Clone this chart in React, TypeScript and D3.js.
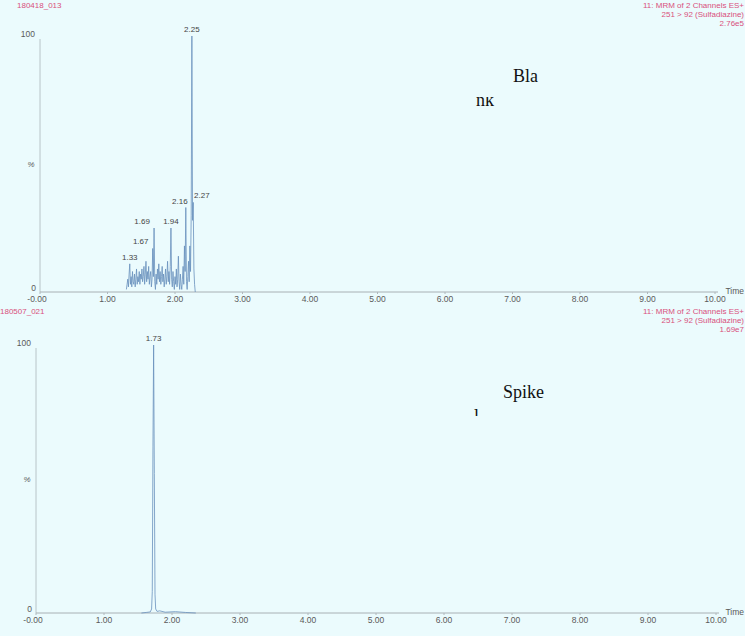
import React from "react";
import * as d3 from "d3";

const xTicks = [0, 1, 2, 3, 4, 5, 6, 7, 8, 9, 10];
const xTickLabels = ["-0.00", "1.00", "2.00", "3.00", "4.00", "5.00", "6.00", "7.00", "8.00", "9.00", "10.00"];

const blankTimes = [
  1.28, 1.29, 1.30, 1.31, 1.32, 1.33, 1.34, 1.35, 1.36, 1.37, 1.38, 1.39, 1.40, 1.41, 1.42, 1.43, 1.44, 1.45, 1.46, 1.47,
  1.48, 1.49, 1.50, 1.51, 1.52, 1.53, 1.54, 1.55, 1.56, 1.57, 1.58, 1.59, 1.60, 1.61, 1.62, 1.63, 1.64, 1.65, 1.66, 1.67,
  1.68, 1.69, 1.70, 1.71, 1.72, 1.73, 1.74, 1.75, 1.76, 1.77, 1.78, 1.79, 1.80, 1.81, 1.82, 1.83, 1.84, 1.85, 1.86, 1.87,
  1.88, 1.89, 1.90, 1.91, 1.92, 1.93, 1.94, 1.95, 1.96, 1.97, 1.98, 1.99, 2.00, 2.01, 2.02, 2.03, 2.04, 2.05, 2.06, 2.07,
  2.08, 2.09, 2.10, 2.11, 2.12, 2.13, 2.14, 2.15, 2.16, 2.17, 2.18, 2.19, 2.20, 2.21, 2.22, 2.23, 2.24, 2.25, 2.26, 2.27,
  2.28, 2.29, 2.30,
];
const blankIntensity = [
  1, 3, 5, 2, 7, 11, 3, 6, 2, 8, 4, 3, 7, 2, 5, 9, 3, 6, 4, 8,
  3, 7, 5, 9, 4, 6, 10, 3, 7, 12, 4, 8, 5, 10, 3, 6, 8, 2, 5, 17,
  6, 25, 4, 1, 7, 3, 9, 5, 11, 4, 8, 3, 6, 10, 4, 7, 2, 5, 9, 3,
  6, 12, 4, 8, 3, 10, 25, 5, 2, 8, 4, 1, 6, 3, 9, 2, 5, 14, 4, 1,
  7, 3, 1, 5, 10, 3, 18, 8, 33, 4, 1, 6, 12, 4, 18, 8, 30, 100, 28, 35,
  9, 3, 0,
];
const blankPeakTimes = [1.33, 1.67, 1.69, 1.94, 2.16, 2.25, 2.27];

const spikeTimes = [1.55, 1.62, 1.68, 1.70, 1.71, 1.72, 1.73, 1.74, 1.75, 1.76, 1.78, 1.82, 1.90, 2.05, 2.20, 2.35];
const spikeIntensity = [0, 0.2, 0.4, 1.5, 8, 62, 100, 52, 7, 1.5, 0.6, 0.8, 0.3, 0.5, 0.2, 0];
const spikePeakTimes = [1.73];

const blankHeader = ["11: MRM of 2 Channels ES+", "251 > 92 (Sulfadiazine)", "2.76e5"];
const spikeHeader = ["11: MRM of 2 Channels ES+", "251 > 92 (Sulfadiazine)", "1.69e7"];

const FONT = "'Liberation Sans', Arial, sans-serif";
const SERIF = "'Liberation Serif', 'Times New Roman', serif";
const PINK = "#d9507c";
const GREY = "#5a5a5a";

type PanelProps = {
  name: string;
  header: string[];
  times: number[];
  values: number[];
  peaks: number[];
  xLeft: number;
  xRight: number;
  yTop: number;
  yBase: number;
  titleY: number;
  titleX: number;
};

function Panel(p: PanelProps) {
  const x = d3.scaleLinear().domain([0, 10]).range([p.xLeft, p.xRight]);
  const y = d3.scaleLinear().domain([0, 100]).range([p.yBase, p.yTop]);
  const line = d3
    .line<number>()
    .x((_, i) => x(p.times[i]))
    .y((v) => y(v));
  const path = line(p.values) || "";
  const maxIdx = d3.maxIndex(p.values);
  const mainT = p.times[maxIdx];
  const mainX = x(mainT);
  const labels = p.peaks.map((t, k) => {
    const idx = p.times.findIndex((tt) => Math.abs(tt - t) < 1e-6);
    const v = p.values[idx];
    let lx = x(t);
    if (t !== mainT && Math.abs(lx - mainX) < 10) {
      lx = lx < mainX ? mainX - 12 : mainX + 10;
    } else if (t !== mainT) {
      const prev = p.peaks[k - 1];
      const next = p.peaks[k + 1];
      const crowded =
        (prev !== undefined && prev !== mainT && t - prev < 0.035) ||
        (next !== undefined && next !== mainT && next - t < 0.035);
      if (crowded) lx -= 12;
    }
    return { t, lx, ly: y(v) - 4 };
  });
  return (
    <g>
      <text x={p.titleX} y={p.titleY} fontSize={8} fill={PINK} fontFamily={FONT}>
        {p.name}
      </text>
      {p.header.map((h, i) => (
        <text key={i} x={744} y={p.titleY + i * 9} fontSize={8} fill={PINK} textAnchor="end" fontFamily={FONT}>
          {h}
        </text>
      ))}
      <text x={p.xLeft - 5} y={y(100) + 1} fontSize={8.5} fill={GREY} textAnchor="end" fontFamily={FONT}>
        100
      </text>
      <text x={p.xLeft - 9} y={(p.yTop + p.yBase) / 2 + 3} fontSize={8} fill={GREY} textAnchor="middle" fontFamily={FONT} fontStyle="italic">
        %
      </text>
      <text x={p.xLeft - 4} y={p.yBase - 1} fontSize={8.5} fill={GREY} textAnchor="end" fontFamily={FONT}>
        0
      </text>
      <line x1={p.xLeft} x2={p.xLeft} y1={p.yTop + 3} y2={p.yBase} stroke="#b8c4c8" strokeWidth={1} />
      <line x1={p.xLeft} x2={x(10) + 3} y1={p.yBase} y2={p.yBase} stroke="#a8b0b4" strokeWidth={1} />
      {xTicks.map((t, i) => (
        <g key={t}>
          <line x1={x(t)} x2={x(t)} y1={p.yBase} y2={p.yBase + 2} stroke="#b0b8bc" />
          <text x={x(t) - (i === 0 ? 3 : 0)} y={p.yBase + 10} fontSize={8.5} fill={GREY} textAnchor="middle" fontFamily={FONT}>
            {xTickLabels[i]}
          </text>
        </g>
      ))}
      <text x={744} y={p.yBase + 2} fontSize={8.5} fill={GREY} textAnchor="end" fontFamily={FONT}>
        Time
      </text>
      <path d={path} fill="none" stroke="#6890bd" strokeWidth={0.8} strokeLinejoin="round" />
      {labels.map((l) => (
        <text key={l.t} x={l.lx} y={l.ly} fontSize={8} fill="#444" textAnchor="middle" fontFamily={FONT}>
          {l.t.toFixed(2)}
        </text>
      ))}
    </g>
  );
}

export default function App() {
  return (
    <svg
      width={745}
      height={636}
      style={{ position: "absolute", left: 0, top: 0, background: "#ebfbfd" }}
    >
      <defs>
        <clipPath id="nkClip">
          <rect x={460} y={97} width={60} height={20} />
        </clipPath>
        <clipPath id="spClip">
          <rect x={460} y={409} width={60} height={7} />
        </clipPath>
      </defs>
      <rect x={0} y={0} width={745} height={636} fill="#ebfbfd" />
      <Panel
        name="180418_013"
        header={blankHeader}
        times={blankTimes}
        values={blankIntensity}
        peaks={blankPeakTimes}
        xLeft={40}
        xRight={715}
        yTop={36}
        yBase={292}
        titleY={8}
        titleX={17}
      />
      <Panel
        name="180507_021"
        header={spikeHeader}
        times={spikeTimes}
        values={spikeIntensity}
        peaks={spikePeakTimes}
        xLeft={36}
        xRight={716}
        yTop={345}
        yBase={613}
        titleY={314}
        titleX={0}
      />
      <text x={513} y={82} fontSize={18} fontFamily={SERIF} fill="#111">
        Bla
      </text>
      <text x={476} y={106} fontSize={18} fontFamily={SERIF} fill="#111" clipPath="url(#nkClip)">
        nk
      </text>
      <text x={503} y={398} fontSize={18} fontFamily={SERIF} fill="#111">
        Spike
      </text>
      <text x={474} y={422} fontSize={18} fontFamily={SERIF} fill="#111" clipPath="url(#spClip)">
        l
      </text>
    </svg>
  );
}
